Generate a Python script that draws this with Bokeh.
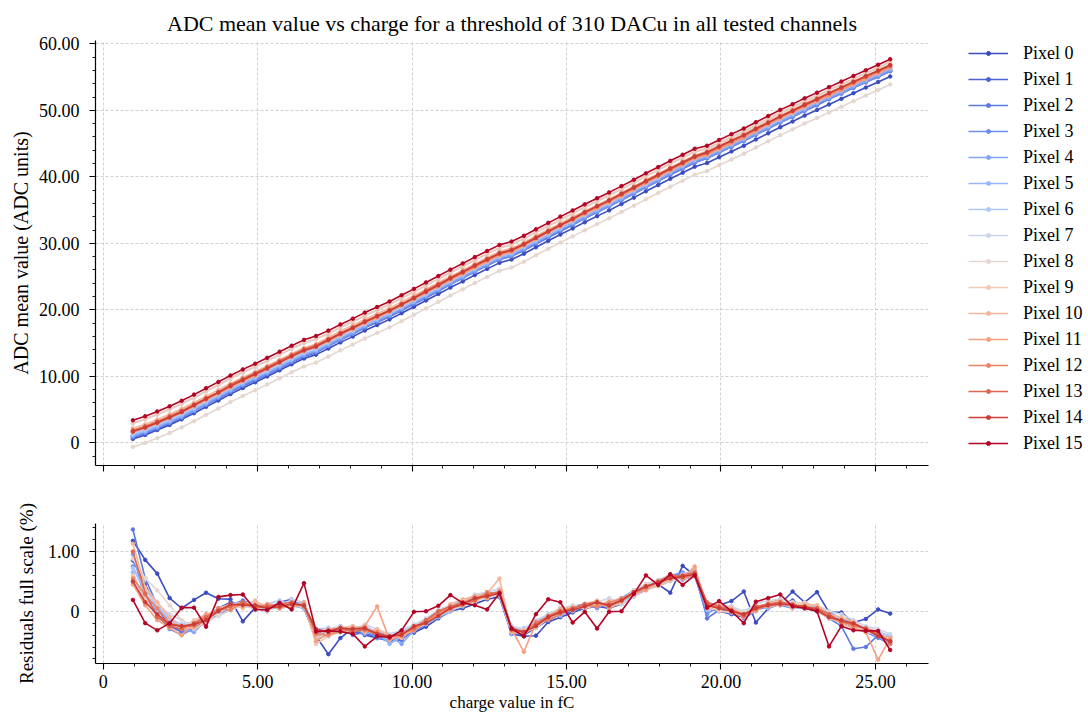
from bokeh.plotting import figure
from bokeh.models import FixedTicker, CustomJSTickFormatter, Legend, LegendItem, Range1d
from bokeh.layouts import column
from bokeh.embed import file_html
from bokeh.resources import INLINE

FONT = "Liberation Serif"
LEGEND_FONT = "Times New Roman"

charge = [0.96, 1.36, 1.75, 2.15, 2.54, 2.94, 3.33, 3.73, 4.12, 4.52, 4.92, 5.31, 5.71, 6.10, 6.50,
          6.89, 7.29, 7.68, 8.08, 8.47, 8.87, 9.27, 9.66, 10.06, 10.45, 10.85, 11.24, 11.64, 12.03, 12.43, 12.83,
          13.22, 13.62, 14.01, 14.41, 14.80, 15.20, 15.59, 15.99, 16.38, 16.78, 17.18, 17.57, 17.97, 18.36, 18.76, 19.15,
          19.55, 19.94, 20.34, 20.74, 21.13, 21.53, 21.92, 22.32, 22.71, 23.11, 23.50, 23.90, 24.29, 24.69, 25.09, 25.48]

pixel_labels = ["Pixel %d" % k for k in range(16)]
pixel_colors = ["#3b4cc0", "#4a62d2", "#5a79e4", "#6e8ff0", "#82a5fa", "#96b7fe", "#aec8f9", "#cbd6ea",
                "#e5d7cf", "#f1c9b5", "#f6b69a", "#f4a081", "#ec8468", "#df6650", "#cb3e38", "#b40426"]

# ADC mean value per pixel
adc_p0 = [0.60,1.20,1.93,2.70,3.54,4.46,5.42,6.37,7.33,8.25,9.11,9.99,10.91,11.81,12.69,13.27,14.18,15.11,15.98,16.89,17.73,18.57,19.50,20.46,21.42,22.39,23.35,24.28,25.23,26.16,27.07,27.57,28.44,29.41,30.38,31.32,32.25,33.17,34.09,34.96,35.91,36.87,37.83,38.77,39.71,40.62,41.53,42.08,42.95,43.82,44.67,45.62,46.55,47.47,48.33,49.21,50.06,50.89,51.73,52.58,53.42,54.26,55.09]
adc_p1 = [0.80,1.40,2.13,2.90,3.74,4.76,5.72,6.67,7.63,8.55,9.41,10.29,11.21,12.11,12.99,13.57,14.58,15.51,16.38,17.29,18.13,18.97,19.90,20.86,21.82,22.79,23.85,24.78,25.73,26.66,27.57,28.07,28.94,29.91,30.88,31.82,32.75,33.77,34.69,35.56,36.51,37.47,38.43,39.37,40.31,41.22,42.13,42.78,43.65,44.52,45.37,46.32,47.25,48.17,49.03,49.91,50.76,51.69,52.53,53.38,54.22,55.06,55.89]
adc_p2 = [1.00,1.60,2.33,3.10,3.94,4.96,5.92,6.87,7.83,8.75,9.61,10.49,11.41,12.31,13.19,13.77,14.78,15.71,16.58,17.49,18.33,19.17,20.10,21.06,22.02,22.99,24.05,24.98,25.93,26.86,27.77,28.27,29.14,30.11,31.08,32.02,32.95,33.97,34.89,35.76,36.71,37.67,38.63,39.57,40.51,41.42,42.33,42.98,43.85,44.72,45.57,46.52,47.45,48.37,49.23,50.11,50.96,51.89,52.73,53.58,54.42,55.26,56.09]
adc_p3 = [0.90,1.50,2.23,3.00,3.84,4.76,5.72,6.77,7.73,8.65,9.51,10.39,11.31,12.21,13.09,13.67,14.58,15.51,16.38,17.39,18.23,19.07,20.00,20.96,21.92,22.89,23.85,24.78,25.73,26.66,27.57,28.07,29.04,30.01,30.98,31.92,32.85,33.77,34.69,35.56,36.51,37.47,38.43,39.37,40.41,41.32,42.23,42.78,43.65,44.52,45.37,46.32,47.25,48.17,49.03,49.91,50.86,51.69,52.53,53.38,54.22,55.06,55.89]
adc_p4 = [1.10,1.70,2.43,3.20,4.04,4.96,5.92,6.97,7.93,8.85,9.71,10.59,11.51,12.41,13.29,13.87,14.78,15.71,16.58,17.59,18.43,19.27,20.20,21.16,22.12,23.09,24.05,24.98,25.93,26.86,27.77,28.27,29.24,30.21,31.18,32.12,33.05,33.97,34.89,35.76,36.71,37.67,38.63,39.57,40.61,41.52,42.43,42.98,43.85,44.72,45.57,46.52,47.45,48.37,49.23,50.11,51.06,51.89,52.73,53.58,54.42,55.26,56.09]
adc_p5 = [1.20,1.80,2.53,3.30,4.14,5.16,6.12,7.07,8.03,8.95,9.81,10.69,11.61,12.51,13.39,13.97,14.98,15.91,16.78,17.69,18.53,19.37,20.30,21.26,22.22,23.19,24.25,25.18,26.13,27.06,27.97,28.47,29.34,30.31,31.28,32.22,33.15,34.17,35.09,35.96,36.91,37.87,38.83,39.77,40.71,41.62,42.53,43.18,44.05,44.92,45.77,46.72,47.65,48.57,49.43,50.31,51.16,52.09,52.93,53.78,54.62,55.46,56.29]
adc_p6 = [1.40,2.00,2.73,3.50,4.34,5.26,6.22,7.27,8.23,9.15,10.01,10.89,11.81,12.71,13.59,14.17,15.08,16.01,16.88,17.89,18.73,19.57,20.50,21.46,22.42,23.39,24.35,25.28,26.23,27.16,28.07,28.57,29.54,30.51,31.48,32.42,33.35,34.27,35.19,36.06,37.01,37.97,38.93,39.87,40.91,41.82,42.73,43.28,44.15,45.02,45.87,46.82,47.75,48.67,49.53,50.41,51.36,52.19,53.03,53.88,54.72,55.56,56.39]
adc_p7 = [2.90,3.50,4.23,5.00,5.84,6.76,7.72,8.67,9.63,10.55,11.41,12.29,13.21,14.11,14.99,15.57,16.38,17.31,18.18,19.09,19.93,20.77,21.70,22.66,23.62,24.59,25.55,26.48,27.43,28.36,29.27,29.77,30.64,31.61,32.58,33.52,34.45,35.37,36.29,37.16,38.11,39.07,40.03,40.97,41.91,42.82,43.73,44.18,45.05,45.92,46.77,47.72,48.65,49.57,50.43,51.31,52.16,52.99,53.83,54.68,55.52,56.36,57.19]
adc_p8 = [-0.60,0.00,0.73,1.50,2.34,3.26,4.22,5.17,6.13,7.05,7.91,8.79,9.71,10.61,11.49,12.07,12.98,13.91,14.78,15.69,16.53,17.37,18.30,19.26,20.22,21.19,22.15,23.08,24.03,24.96,25.87,26.37,27.24,28.21,29.18,30.12,31.05,31.97,32.89,33.76,34.71,35.67,36.63,37.57,38.51,39.42,40.33,40.88,41.75,42.62,43.47,44.42,45.35,46.27,47.13,48.01,48.86,49.69,50.53,51.38,52.22,53.06,53.89]
adc_p9 = [3.00,3.60,4.33,5.10,5.94,6.86,7.82,8.77,9.73,10.65,11.51,12.39,13.31,14.21,15.09,15.67,16.48,17.41,18.28,19.19,20.03,20.87,21.80,22.76,23.72,24.69,25.65,26.58,27.53,28.46,29.37,29.87,30.74,31.71,32.68,33.62,34.55,35.47,36.39,37.26,38.21,39.17,40.13,41.07,42.01,42.92,43.83,44.28,45.15,46.02,46.87,47.82,48.75,49.67,50.53,51.41,52.26,53.09,53.93,54.78,55.62,56.46,57.29]
adc_p10 = [2.20,2.80,3.53,4.30,5.14,6.06,7.02,7.97,8.93,9.85,10.71,11.59,12.51,13.41,14.29,14.87,15.88,16.81,17.68,18.59,19.43,20.27,21.20,22.16,23.12,24.09,25.05,25.98,26.93,27.86,28.77,29.27,30.14,31.11,32.08,33.02,33.95,34.87,35.79,36.66,37.61,38.57,39.53,40.47,41.41,42.32,43.23,43.88,44.75,45.62,46.47,47.42,48.35,49.27,50.13,51.01,51.86,52.69,53.53,54.38,55.22,56.06,56.89]
adc_p11 = [1.60,2.20,2.93,3.70,4.54,5.46,6.42,7.37,8.33,9.25,10.11,11.09,12.01,12.91,13.79,14.37,15.28,16.21,17.08,17.99,18.83,19.67,20.60,21.56,22.52,23.49,24.45,25.38,26.33,27.26,28.17,28.67,29.64,30.61,31.58,32.52,33.45,34.37,35.29,36.16,37.11,38.07,39.03,39.97,40.91,41.82,42.73,43.28,44.15,45.02,45.87,46.82,47.85,48.77,49.63,50.51,51.36,52.19,53.03,53.88,54.72,55.56,56.39]
adc_p12 = [1.80,2.40,3.13,3.90,4.74,5.66,6.62,7.57,8.53,9.45,10.31,11.29,12.21,13.11,13.99,14.57,15.48,16.41,17.28,18.19,19.03,19.87,20.80,21.76,22.72,23.69,24.65,25.58,26.53,27.46,28.37,28.87,29.84,30.81,31.78,32.72,33.65,34.57,35.49,36.36,37.31,38.27,39.23,40.17,41.11,42.02,42.93,43.48,44.35,45.22,46.07,47.02,48.05,48.97,49.83,50.71,51.56,52.39,53.23,54.08,54.92,55.76,56.59]
adc_p13 = [1.90,2.50,3.23,4.00,4.84,5.76,6.72,7.67,8.73,9.65,10.51,11.39,12.31,13.21,14.09,14.67,15.58,16.51,17.38,18.29,19.13,19.97,20.90,21.86,22.92,23.89,24.85,25.78,26.73,27.66,28.57,29.07,29.94,30.91,31.88,32.82,33.75,34.67,35.59,36.46,37.51,38.47,39.43,40.37,41.31,42.22,43.13,43.68,44.55,45.42,46.27,47.22,48.15,49.07,49.93,50.91,51.76,52.59,53.43,54.28,55.12,55.96,56.79]
adc_p14 = [1.70,2.30,3.03,3.80,4.64,5.66,6.62,7.57,8.53,9.45,10.31,11.19,12.11,13.01,13.89,14.47,15.48,16.41,17.28,18.19,19.03,19.87,20.80,21.76,22.72,23.69,24.75,25.68,26.63,27.56,28.47,28.97,29.84,30.81,31.78,32.72,33.65,34.67,35.59,36.46,37.41,38.37,39.33,40.27,41.21,42.12,43.03,43.68,44.55,45.42,46.27,47.22,48.15,49.07,49.93,50.81,51.66,52.59,53.43,54.28,55.12,55.96,56.79]
adc_p15 = [3.40,4.00,4.73,5.50,6.34,7.26,8.22,9.17,10.13,11.05,11.91,12.79,13.71,14.61,15.49,16.07,16.88,17.81,18.68,19.59,20.43,21.27,22.20,23.16,24.12,25.09,26.05,26.98,27.93,28.86,29.77,30.27,31.14,32.11,33.08,34.02,34.95,35.87,36.79,37.66,38.61,39.57,40.53,41.47,42.41,43.32,44.23,44.68,45.55,46.42,47.27,48.22,49.15,50.07,50.93,51.81,52.66,53.49,54.33,55.18,56.02,56.86,57.69]

# Residuals (% of full scale) per pixel
res_p0 = [1.18,0.86,0.63,0.22,0.05,0.19,0.31,0.21,0.20,-0.17,0.06,0.02,0.12,0.10,0.05,
          -0.42,-0.72,-0.45,-0.28,-0.40,-0.45,-0.50,-0.42,-0.36,-0.26,-0.12,0.00,0.05,0.12,0.20,0.24,
          -0.38,-0.42,-0.41,-0.18,-0.10,-0.02,0.05,0.08,0.05,0.12,0.25,0.36,0.45,0.31,0.76,0.60,
          0.06,0.10,0.17,0.33,-0.19,0.05,0.12,0.33,0.15,0.32,-0.02,-0.02,-0.19,-0.13,0.03,-0.04]
res_p1 = [0.85,0.45,0.05,-0.25,-0.35,-0.30,-0.10,0.05,0.15,0.10,0.05,0.00,0.15,0.20,0.05,
          -0.45,-0.40,-0.25,-0.35,-0.38,-0.42,-0.50,-0.48,-0.30,-0.20,-0.10,0.02,0.10,0.18,0.25,0.28,
          -0.35,-0.40,-0.28,-0.15,-0.05,0.00,0.05,0.10,0.05,0.15,0.28,0.38,0.45,0.52,0.55,0.58,
          0.05,0.00,-0.05,-0.10,0.02,0.08,0.12,0.18,0.05,0.00,-0.05,-0.20,-0.25,-0.30,-0.40,-0.45]
res_p2 = [1.37,0.55,0.10,-0.22,-0.35,-0.25,-0.15,0.00,0.10,0.18,0.10,0.02,0.08,0.15,0.12,
          -0.40,-0.30,-0.28,-0.40,-0.35,-0.42,-0.52,-0.45,-0.35,-0.22,-0.08,0.08,0.15,0.22,0.30,0.32,
          -0.30,-0.38,-0.25,-0.12,-0.05,0.02,0.10,0.15,0.08,0.20,0.32,0.42,0.50,0.58,0.62,0.65,
          -0.12,0.02,0.00,-0.08,0.05,0.12,0.20,0.10,0.12,0.00,-0.12,-0.25,-0.63,-0.60,-0.40,-0.50]
res_p3 = [0.75,0.30,-0.05,-0.30,-0.40,-0.28,-0.20,-0.05,0.05,0.15,0.02,0.10,0.05,0.18,0.08,
          -0.50,-0.28,-0.35,-0.28,-0.32,-0.45,-0.48,-0.35,-0.25,-0.15,0.00,0.10,0.15,0.25,0.22,0.35,
          -0.28,-0.30,-0.18,-0.05,0.02,0.08,0.12,0.05,0.15,0.22,0.35,0.45,0.52,0.60,0.65,0.60,
          -0.05,0.10,0.05,-0.12,0.00,0.15,0.10,0.05,0.15,0.05,-0.10,-0.18,-0.28,-0.35,-0.45,-0.55]
res_p4 = [0.95,0.20,-0.08,-0.18,-0.30,-0.35,-0.15,0.02,0.12,0.08,0.12,0.05,0.15,0.10,0.15,
          -0.35,-0.42,-0.32,-0.28,-0.38,-0.35,-0.40,-0.55,-0.32,-0.15,-0.02,0.08,0.18,0.15,0.28,0.25,
          -0.38,-0.32,-0.20,-0.12,0.00,0.08,0.05,0.15,0.12,0.15,0.28,0.42,0.45,0.55,0.60,0.68,
          0.10,0.08,-0.02,-0.02,0.08,0.05,0.18,0.12,0.05,0.08,-0.02,-0.12,-0.20,-0.32,-0.35,-0.42]
res_p5 = [0.65,0.15,0.05,-0.15,-0.25,-0.20,-0.05,-0.08,0.02,0.15,0.15,0.08,0.05,0.08,0.12,
          -0.42,-0.38,-0.28,-0.30,-0.25,-0.35,-0.55,-0.42,-0.30,-0.22,-0.10,0.00,0.10,0.25,0.30,0.28,
          -0.25,-0.32,-0.28,-0.08,-0.08,0.05,0.12,0.08,0.12,0.20,0.25,0.38,0.52,0.55,0.52,0.60,
          0.02,0.05,0.08,-0.05,0.10,0.05,0.12,0.08,0.12,0.08,-0.10,-0.12,-0.20,-0.28,-0.42,-0.50]
res_p6 = [0.72,0.35,0.08,-0.12,-0.22,-0.18,-0.08,0.05,0.10,0.08,0.05,0.12,0.18,0.10,0.05,
          -0.30,-0.28,-0.35,-0.25,-0.28,-0.40,-0.40,-0.35,-0.25,-0.18,-0.08,0.05,0.08,0.22,0.25,0.35,
          -0.32,-0.28,-0.22,-0.05,0.00,0.00,0.10,0.12,0.08,0.12,0.32,0.40,0.45,0.55,0.62,0.58,
          0.12,0.05,0.00,-0.08,0.05,0.12,0.15,0.05,0.05,0.05,-0.05,-0.15,-0.25,-0.30,-0.35,-0.42]
res_p7 = [0.50,0.35,0.12,-0.05,-0.15,-0.25,-0.10,-0.05,0.12,0.15,0.02,0.08,0.05,0.20,0.15,
          -0.32,-0.30,-0.25,-0.32,-0.22,-0.30,-0.38,-0.32,-0.22,-0.12,0.02,0.10,0.15,0.28,0.32,0.38,
          -0.25,-0.30,-0.15,-0.05,0.05,0.10,0.08,0.15,0.22,0.12,0.25,0.35,0.42,0.50,0.55,0.58,
          0.15,0.10,0.08,0.00,0.12,0.18,0.20,0.15,0.12,0.10,0.00,-0.05,-0.15,-0.25,-0.30,-0.38]
res_p8 = [0.88,0.55,0.35,0.10,-0.15,-0.30,-0.18,-0.08,0.02,0.10,0.05,0.00,0.12,0.15,0.08,
          -0.45,-0.38,-0.32,-0.35,-0.28,-0.35,-0.48,-0.38,-0.32,-0.20,-0.08,0.02,0.10,0.18,0.22,0.28,
          -0.35,-0.38,-0.25,-0.12,-0.02,0.05,0.10,0.12,0.08,0.18,0.35,0.45,0.52,0.55,0.60,0.65,
          0.05,0.02,0.05,-0.02,0.08,0.12,0.18,0.15,0.10,0.05,-0.08,-0.15,-0.22,-0.32,-0.40,-0.48]
res_p9 = [0.60,0.20,-0.05,-0.22,-0.28,-0.15,-0.05,0.00,0.05,0.12,0.15,0.10,0.05,0.08,0.12,
          -0.55,-0.42,-0.35,-0.28,-0.32,-0.38,-0.42,-0.40,-0.25,-0.15,-0.05,0.08,0.12,0.15,0.28,0.30,
          -0.30,-0.35,-0.28,-0.12,0.00,0.08,0.05,0.10,0.18,0.20,0.28,0.42,0.48,0.52,0.60,0.62,
          0.10,0.00,-0.02,-0.08,0.08,0.10,0.12,0.08,0.15,0.00,-0.12,-0.18,-0.25,-0.35,-0.38,-0.50]
res_p10 = [1.13,0.40,0.15,-0.10,-0.30,-0.28,-0.20,0.05,0.12,0.05,0.18,0.02,0.12,0.10,0.08,
           -0.42,-0.30,-0.28,-0.25,-0.35,-0.30,-0.42,-0.45,-0.28,-0.20,-0.05,0.12,0.20,0.25,0.30,0.55,
           -0.35,-0.32,-0.20,-0.08,0.05,0.05,0.12,0.18,0.05,0.15,0.32,0.38,0.42,0.52,0.60,0.72,
           0.08,0.12,0.05,-0.05,0.00,0.15,0.18,0.05,0.12,0.10,-0.05,-0.10,-0.18,-0.30,-0.40,-0.45]
res_p11 = [0.45,0.10,-0.15,-0.28,-0.40,-0.20,-0.05,0.00,0.10,0.12,0.05,0.12,0.10,0.05,0.15,
           -0.50,-0.38,-0.35,-0.30,-0.25,0.08,-0.48,-0.42,-0.32,-0.15,-0.05,0.02,0.15,0.25,0.22,0.35,
           -0.30,-0.68,-0.20,-0.10,0.02,0.02,0.08,0.10,0.12,0.22,0.28,0.35,0.50,0.62,0.55,0.75,
           0.05,0.08,0.00,-0.10,0.05,0.08,0.10,0.12,0.05,0.05,-0.10,-0.20,-0.28,-0.35,-0.81,-0.45]
res_p12 = [0.55,0.28,0.05,-0.20,-0.25,-0.25,-0.15,0.05,0.02,0.15,0.08,0.10,0.05,0.12,0.10,
           -0.38,-0.40,-0.32,-0.28,-0.32,-0.35,-0.45,-0.35,-0.32,-0.18,-0.02,0.05,0.10,0.18,0.32,0.28,
           -0.32,-0.40,-0.18,-0.15,-0.05,0.05,0.10,0.08,0.15,0.20,0.32,0.40,0.48,0.58,0.55,0.60,
           0.12,0.05,0.02,-0.05,0.02,0.10,0.15,0.12,0.05,0.02,-0.10,-0.15,-0.25,-0.28,-0.35,-0.55]
res_p13 = [1.00,0.30,-0.10,-0.25,-0.30,-0.20,-0.10,0.02,0.08,0.15,0.05,0.08,0.12,0.15,0.08,
           -0.35,-0.32,-0.28,-0.35,-0.30,-0.40,-0.42,-0.38,-0.28,-0.15,0.00,0.08,0.15,0.18,0.28,0.32,
           -0.28,-0.35,-0.22,-0.08,0.00,0.05,0.12,0.15,0.08,0.18,0.30,0.40,0.50,0.58,0.60,0.65,
           0.15,0.08,0.02,-0.08,0.08,0.12,0.15,0.10,0.08,0.05,-0.05,-0.18,-0.22,-0.30,-0.38,-0.52]
res_p14 = [0.50,0.15,-0.05,-0.22,-0.25,-0.22,-0.15,0.00,0.12,0.10,0.10,0.05,0.08,0.12,0.10,
           -0.30,-0.35,-0.28,-0.30,-0.28,-0.38,-0.42,-0.40,-0.25,-0.20,-0.08,0.05,0.12,0.22,0.25,0.30,
           -0.30,-0.35,-0.25,-0.10,-0.02,0.02,0.08,0.15,0.10,0.18,0.32,0.42,0.48,0.55,0.58,0.62,
           0.10,0.05,0.00,-0.05,0.05,0.10,0.12,0.10,0.08,0.02,-0.10,-0.15,-0.20,-0.30,-0.42,-0.50]
res_p15 = [0.19,-0.20,-0.32,-0.20,0.06,0.06,-0.26,0.24,0.27,0.28,0.03,0.02,0.14,0.03,0.47,
           -0.34,-0.33,-0.34,-0.38,-0.59,-0.42,-0.44,-0.32,-0.01,0.00,0.09,0.27,0.14,0.10,0.03,0.30,
           -0.29,-0.42,-0.05,0.20,0.15,-0.19,-0.01,-0.29,-0.01,0.00,0.29,0.60,0.44,0.62,0.44,0.60,
           0.06,0.17,0.00,-0.20,0.16,0.22,0.28,0.08,0.05,0.00,-0.59,-0.25,-0.32,-0.33,-0.33,-0.65]

adc_values = [adc_p0, adc_p1, adc_p2, adc_p3, adc_p4, adc_p5, adc_p6, adc_p7,
              adc_p8, adc_p9, adc_p10, adc_p11, adc_p12, adc_p13, adc_p14, adc_p15]
res_values = [res_p0, res_p1, res_p2, res_p3, res_p4, res_p5, res_p6, res_p7,
              res_p8, res_p9, res_p10, res_p11, res_p12, res_p13, res_p14, res_p15]

for arr in adc_values + res_values:
    assert len(arr) == len(charge), len(arr)

x_major = [0, 5, 10, 15, 20, 25]
y_major = [0, 10, 20, 30, 40, 50, 60]
r_major = [0, 1]

fmt = CustomJSTickFormatter(code="return Math.abs(tick) < 1e-9 ? '0' : tick.toFixed(2);")
blank_fmt = CustomJSTickFormatter(code="return '';")


def style_axes(p):
    p.outline_line_color = None
    p.background_fill_color = "white"
    p.border_fill_color = "white"
    for ax in p.axis:
        ax.axis_line_color = "black"
        ax.axis_line_width = 1.2
        ax.major_tick_in = 0
        ax.major_tick_out = 6
        ax.minor_tick_in = 0
        ax.minor_tick_out = 3
        ax.major_tick_line_width = 1.1
        ax.minor_tick_line_width = 0.9
        ax.major_tick_line_color = "black"
        ax.minor_tick_line_color = "black"
        ax.major_label_text_font = FONT
        ax.major_label_text_font_size = "18px"
        ax.major_label_text_color = "black"
        ax.axis_label_text_font = FONT
        ax.axis_label_text_font_style = "normal"
        ax.axis_label_text_color = "black"
        ax.formatter = fmt
    for g in p.grid:
        g.grid_line_color = "#c4c4c4"
        g.grid_line_dash = "3 2"
        g.grid_line_width = 0.8


# ---------- top panel ----------
p1 = figure(frame_width=833, frame_height=425, output_backend="svg", toolbar_location=None,
            x_range=Range1d(-0.25, 26.72), y_range=Range1d(-3.4, 60.5),
            min_border_left=95, min_border_right=160, min_border_top=40, min_border_bottom=21)
p1.title.text = "ADC mean value vs charge for a threshold of 310 DACu in all tested channels"
p1.title.align = "center"
p1.title.text_font = FONT
p1.title.text_font_size = "22px"
p1.title.text_font_style = "normal"
p1.title.text_color = "black"

p1.xaxis.ticker = FixedTicker(ticks=x_major, minor_ticks=list(range(0, 27)))
p1.yaxis.ticker = FixedTicker(ticks=y_major, minor_ticks=list(range(-2, 61, 2)))
style_axes(p1)
p1.xaxis.formatter = blank_fmt
p1.xaxis.major_label_standoff = 0
p1.yaxis.axis_label = "ADC mean value (ADC units)"
p1.yaxis.axis_label_text_font_size = "20px"
p1.yaxis.axis_label_standoff = 4
p1.yaxis.major_label_standoff = 10

items = []
for k in range(16):
    c = pixel_colors[k]
    rl = p1.line(charge, adc_values[k], line_color=c, line_width=1.6)
    rs = p1.scatter(charge, adc_values[k], size=3.5, fill_color=c, line_color=c, marker="circle")
    items.append(LegendItem(label=pixel_labels[k], renderers=[rl, rs]))

legend = Legend(items=items, location=(40, 9), margin=0, padding=0, spacing=0,
                glyph_width=40, glyph_height=10, label_height=26, label_standoff=15,
                label_text_font=LEGEND_FONT, label_text_font_size="18px",
                label_text_font_style="normal", label_text_color="black",
                border_line_alpha=0, background_fill_alpha=0)
p1.add_layout(legend, "right")

# ---------- residual panel ----------
p2 = figure(frame_width=833, frame_height=140, output_backend="svg", toolbar_location=None,
            x_range=p1.x_range, y_range=Range1d(-0.876, 1.47),
            min_border_left=95, min_border_right=160, min_border_top=37, min_border_bottom=55)
p2.xaxis.ticker = FixedTicker(ticks=x_major, minor_ticks=list(range(0, 27)))
p2.yaxis.ticker = FixedTicker(ticks=r_major, minor_ticks=[-0.8, -0.6, -0.4, -0.2, 0.2, 0.4, 0.6, 0.8, 1.2, 1.4])
style_axes(p2)
p2.xaxis.axis_label = "charge value in fC"
p2.xaxis.axis_label_text_font_size = "17px"
p2.xaxis.axis_label_standoff = 2
p2.xaxis.major_label_standoff = 5
p2.yaxis.axis_label = "Residuals full scale (%)"
p2.yaxis.axis_label_text_font_size = "19px"
p2.yaxis.axis_label_standoff = 8
p2.yaxis.major_label_standoff = 10

for k in range(16):
    c = pixel_colors[k]
    p2.line(charge, res_values[k], line_color=c, line_width=1.6)
    p2.scatter(charge, res_values[k], size=3.5, fill_color=c, line_color=c, marker="circle")

layout = column(p1, p2, spacing=0)
open("out.html", "w").write(file_html(layout, INLINE))
